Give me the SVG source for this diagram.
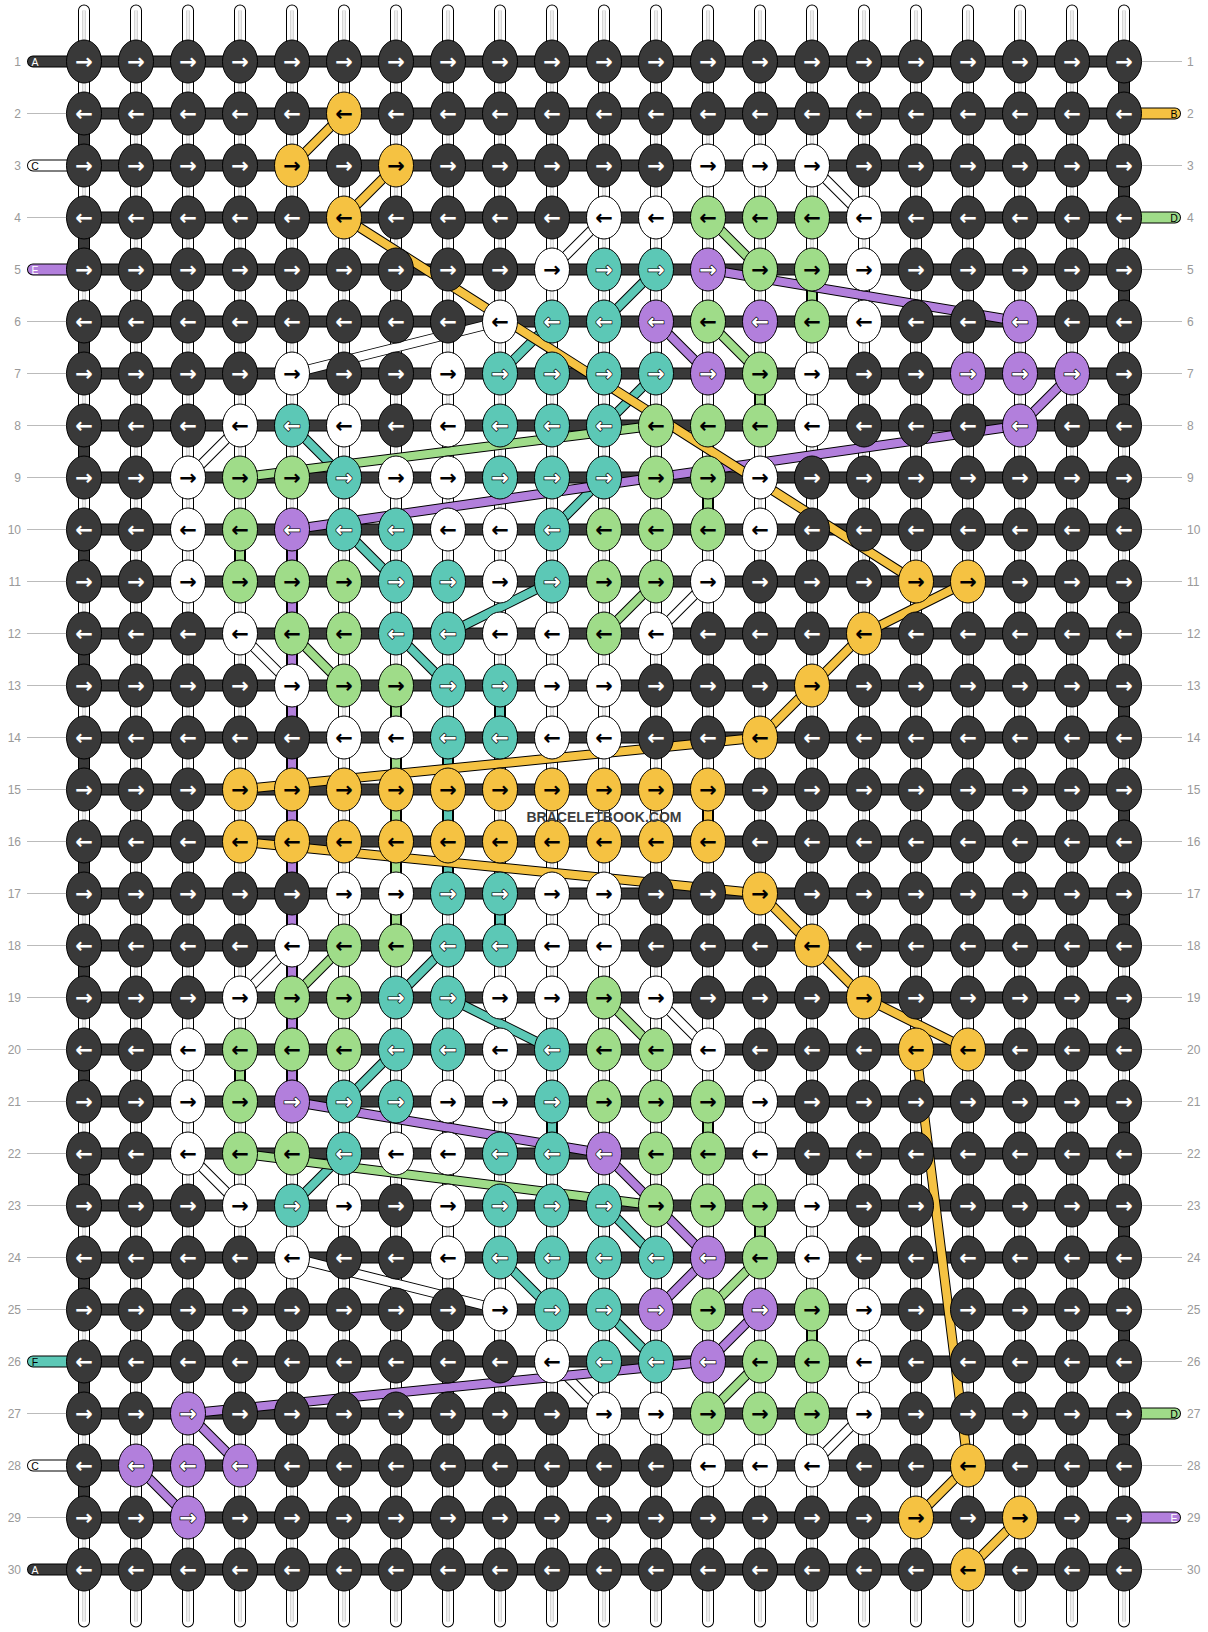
<svg xmlns="http://www.w3.org/2000/svg" xmlns:xlink="http://www.w3.org/1999/xlink" width="1208" height="1632" viewBox="0 0 1208 1632">
<style>
.wo{fill:none;stroke:#000;stroke-width:12;stroke-linecap:round}
.wi{fill:none;stroke:#fff;stroke-width:10;stroke-linecap:round}
.wc{fill:none;stroke:#c4c4c4;stroke-width:3.4}
.wc2{fill:none;stroke:#fff;stroke-width:1.4}
.fo{fill:none;stroke:#000;stroke-width:12}
.fi{fill:none;stroke:#393939;stroke-width:10}
.bo{fill:none;stroke:#000;stroke-width:10}
.bW{fill:none;stroke:#fff;stroke-width:8}
.bT{fill:none;stroke:#5cc8b6;stroke-width:8}
.bG{fill:none;stroke:#9fdc89;stroke-width:8}
.bP{fill:none;stroke:#b27fdc;stroke-width:8}
.bY{fill:none;stroke:#f5c242;stroke-width:8}
.to{fill:none;stroke:#000;stroke-width:12;stroke-linecap:round}
.ti{fill:none;stroke-width:10;stroke-linecap:round}
ellipse{rx:17.5px;ry:21.5px;stroke:#000;stroke-width:1}
.D{fill:#393939}.W{fill:#fff}.Y{fill:#f5c242}.G{fill:#9fdc89}.T{fill:#5cc8b6}.P{fill:#b27fdc}
ellipse+text{font-family:"DejaVu Sans",sans-serif;font-weight:bold;font-size:21px;text-anchor:middle;fill:#000;transform:translateY(1.3px)}
.D+text{fill:#fff}
.T+text,.P+text{fill:#fff;stroke:#000;stroke-width:1.3px;paint-order:stroke}
.num{font-family:"Liberation Sans",Arial,sans-serif;font-size:12px;fill:#999}
.lt{font-family:"Liberation Sans",Arial,sans-serif;font-size:10.5px;text-anchor:middle}
.gl{fill:none;stroke:#bbb;stroke-width:1}
</style>
<defs>
<path id="wp" d="M84 10.5V1621.5m52-1611v1611m52-1611v1611m52-1611v1611m52-1611v1611m52-1611v1611m52-1611v1611m52-1611v1611m52-1611v1611m52-1611v1611m52-1611v1611m52-1611v1611m52-1611v1611m52-1611v1611m52-1611v1611m52-1611v1611m52-1611v1611m52-1611v1611m52-1611v1611m52-1611v1611m52-1611v1611"/>
<path id="wf" d="M84 61.5h1040m-1040 52h1040m-1040 52h1040m-1040 52h1040m-1040 52h1040m-1040 52h1040m-1040 52h1040m-1040 52h1040m-1040 52h1040m-1040 52h1040m-1040 52h1040m-1040 52h1040m-1040 52h1040m-1040 52h1040m-1040 52h1040m-1040 52h1040m-1040 52h1040m-1040 52h1040m-1040 52h1040m-1040 52h1040m-1040 52h1040m-1040 52h1040m-1040 52h1040m-1040 52h1040m-1040 52h1040m-1040 52h1040m-1040 52h1040m-1040 52h1040m-1040 52h1040m-1040 52h1040M84 113.5v52m0 52v52m0 52v52m0 52v52m0 52v52m0 52v52m0 52v52m0 52v52m0 52v52m0 52v52m0 52v52m0 52v52m0 52v52m0 52v52M1124 61.5v52m0 52v52m0 52v52m0 52v52m0 52v52m0 52v52m0 52v52m0 52v52m0 52v52m0 52v52m0 52v52m0 52v52m0 52v52m0 52v52m0 52v52"/>
</defs>
<rect width="1208" height="1632" fill="#fff"/>
<g id="connectors">
<use xlink:href="#wp" class="wo"/><use xlink:href="#wp" class="wi"/><use xlink:href="#wp" class="wc"/><use xlink:href="#wp" class="wc2"/>
<use xlink:href="#wf" class="fo"/><use xlink:href="#wf" class="fi"/>
<g id="string-C">
<path class="bo" d="M812 165.5L864 217.5M604 217.5L552 269.5M500 321.5L292 373.5M240 425.5L188 477.5M708 581.5L656 633.5M240 633.5L292 685.5M292 945.5L240 997.5M656 997.5L708 1049.5M188 1153.5L240 1205.5M292 1257.5L500 1309.5M552 1361.5L604 1413.5M864 1413.5L812 1465.5"/>
<path class="bW" d="M812 165.5L864 217.5M604 217.5L552 269.5M500 321.5L292 373.5M240 425.5L188 477.5M708 581.5L656 633.5M240 633.5L292 685.5M292 945.5L240 997.5M656 997.5L708 1049.5M188 1153.5L240 1205.5M292 1257.5L500 1309.5M552 1361.5L604 1413.5M864 1413.5L812 1465.5"/>
</g>
<g id="string-F">
<path class="bo" d="M656 269.5L604 321.5M552 321.5L500 373.5M656 373.5L604 425.5M292 425.5L344 477.5M604 477.5L552 529.5M344 529.5L396 581.5M552 581.5L448 633.5M396 633.5L448 685.5M500 685.5V737.5M448 737.5V893.5M500 893.5V945.5M448 945.5L396 997.5M448 997.5L552 1049.5M396 1049.5L344 1101.5M552 1101.5V1153.5M344 1153.5L292 1205.5M604 1205.5L656 1257.5M500 1257.5L552 1309.5M604 1309.5L656 1361.5"/>
<path class="bT" d="M656 269.5L604 321.5M552 321.5L500 373.5M656 373.5L604 425.5M292 425.5L344 477.5M604 477.5L552 529.5M344 529.5L396 581.5M552 581.5L448 633.5M396 633.5L448 685.5M500 685.5V737.5M448 737.5V893.5M500 893.5V945.5M448 945.5L396 997.5M448 997.5L552 1049.5M396 1049.5L344 1101.5M552 1101.5V1153.5M344 1153.5L292 1205.5M604 1205.5L656 1257.5M500 1257.5L552 1309.5M604 1309.5L656 1361.5"/>
</g>
<g id="string-D">
<path class="bo" d="M708 217.5L760 269.5M812 269.5V321.5M708 321.5L760 373.5M760 373.5V425.5M656 425.5L240 477.5M708 477.5V529.5M240 529.5V581.5M656 581.5L604 633.5M292 633.5L344 685.5M396 685.5V945.5M344 945.5L292 997.5M604 997.5L656 1049.5M240 1049.5V1101.5M708 1101.5V1153.5M240 1153.5L656 1205.5M760 1205.5V1257.5M760 1257.5L708 1309.5M812 1309.5V1361.5M760 1361.5L708 1413.5"/>
<path class="bG" d="M708 217.5L760 269.5M812 269.5V321.5M708 321.5L760 373.5M760 373.5V425.5M656 425.5L240 477.5M708 477.5V529.5M240 529.5V581.5M656 581.5L604 633.5M292 633.5L344 685.5M396 685.5V945.5M344 945.5L292 997.5M604 997.5L656 1049.5M240 1049.5V1101.5M708 1101.5V1153.5M240 1153.5L656 1205.5M760 1205.5V1257.5M760 1257.5L708 1309.5M812 1309.5V1361.5M760 1361.5L708 1413.5"/>
</g>
<g id="string-E">
<path class="bo" d="M708 269.5L1020 321.5M656 321.5L708 373.5M1072 373.5L1020 425.5M1020 425.5L292 529.5M292 529.5V1101.5M292 1101.5L604 1153.5M604 1153.5L708 1257.5M708 1257.5L656 1309.5M760 1309.5L708 1361.5M708 1361.5L188 1413.5M188 1413.5L240 1465.5M136 1465.5L188 1517.5"/>
<path class="bP" d="M708 269.5L1020 321.5M656 321.5L708 373.5M1072 373.5L1020 425.5M1020 425.5L292 529.5M292 529.5V1101.5M292 1101.5L604 1153.5M604 1153.5L708 1257.5M708 1257.5L656 1309.5M760 1309.5L708 1361.5M708 1361.5L188 1413.5M188 1413.5L240 1465.5M136 1465.5L188 1517.5"/>
</g>
<g id="string-B">
<path class="bo" d="M344 113.5L292 165.5M396 165.5L344 217.5M344 217.5L916 581.5M968 581.5L864 633.5M864 633.5L812 685.5M812 685.5L760 737.5M760 737.5L240 789.5M708 789.5V841.5M240 841.5L760 893.5M760 893.5L812 945.5M812 945.5L864 997.5M864 997.5L968 1049.5M916 1049.5L968 1465.5M968 1465.5L916 1517.5M1020 1517.5L968 1569.5"/>
<path class="bY" d="M344 113.5L292 165.5M396 165.5L344 217.5M344 217.5L916 581.5M968 581.5L864 633.5M864 633.5L812 685.5M812 685.5L760 737.5M760 737.5L240 789.5M708 789.5V841.5M240 841.5L760 893.5M760 893.5L812 945.5M812 945.5L864 997.5M864 997.5L968 1049.5M916 1049.5L968 1465.5M968 1465.5L916 1517.5M1020 1517.5L968 1569.5"/>
</g>
</g>
<g id="labels">
<path class="gl" d="M27 113.5H66M27 217.5H66M27 321.5H66M27 373.5H66M27 425.5H66M27 477.5H66M27 529.5H66M27 581.5H66M27 633.5H66M27 685.5H66M27 737.5H66M27 789.5H66M27 841.5H66M27 893.5H66M27 945.5H66M27 997.5H66M27 1049.5H66M27 1101.5H66M27 1153.5H66M27 1205.5H66M27 1257.5H66M27 1309.5H66M27 1413.5H66M27 1517.5H66"/>
<path class="gl" d="M1142 61.5H1182M1142 165.5H1182M1142 269.5H1182M1142 321.5H1182M1142 373.5H1182M1142 425.5H1182M1142 477.5H1182M1142 529.5H1182M1142 581.5H1182M1142 633.5H1182M1142 685.5H1182M1142 737.5H1182M1142 789.5H1182M1142 841.5H1182M1142 893.5H1182M1142 945.5H1182M1142 997.5H1182M1142 1049.5H1182M1142 1101.5H1182M1142 1153.5H1182M1142 1205.5H1182M1142 1257.5H1182M1142 1309.5H1182M1142 1361.5H1182M1142 1465.5H1182M1142 1569.5H1182"/>
<path class="to" d="M33 61.5H84M33 1569.5H84M33 165.5H84M33 1465.5H84M33 269.5H84M33 1361.5H84M1124 113.5H1175M1124 217.5H1175M1124 1413.5H1175M1124 1517.5H1175"/>
<path class="ti" stroke="#393939" d="M33 61.5H84M33 1569.5H84"/>
<path class="ti" stroke="#fff" d="M33 165.5H84M33 1465.5H84"/>
<path class="ti" stroke="#b27fdc" d="M33 269.5H84M1124 1517.5H1175"/>
<path class="ti" stroke="#5cc8b6" d="M33 1361.5H84"/>
<path class="ti" stroke="#f5c242" d="M1124 113.5H1175"/>
<path class="ti" stroke="#9fdc89" d="M1124 217.5H1175M1124 1413.5H1175"/>
<text class="lt" x="35" y="65.5" fill="#fff">A</text>
<text class="lt" x="35" y="169.5" fill="#000">C</text>
<text class="lt" x="35" y="273.5" fill="#fff">E</text>
<text class="lt" x="35" y="1365.5" fill="#000">F</text>
<text class="lt" x="35" y="1469.5" fill="#000">C</text>
<text class="lt" x="35" y="1573.5" fill="#fff">A</text>
<text class="lt" x="1174" y="117.5" fill="#000">B</text>
<text class="lt" x="1174" y="221.5" fill="#000">D</text>
<text class="lt" x="1174" y="1417.5" fill="#000">D</text>
<text class="lt" x="1174" y="1521.5" fill="#fff">E</text>
<g class="num" text-anchor="end">
<text x="21" y="66">1</text><text x="21" y="118">2</text><text x="21" y="170">3</text><text x="21" y="222">4</text><text x="21" y="274">5</text><text x="21" y="326">6</text><text x="21" y="378">7</text><text x="21" y="430">8</text><text x="21" y="482">9</text><text x="21" y="534">10</text><text x="21" y="586">11</text><text x="21" y="638">12</text><text x="21" y="690">13</text><text x="21" y="742">14</text><text x="21" y="794">15</text><text x="21" y="846">16</text><text x="21" y="898">17</text><text x="21" y="950">18</text><text x="21" y="1002">19</text><text x="21" y="1054">20</text><text x="21" y="1106">21</text><text x="21" y="1158">22</text><text x="21" y="1210">23</text><text x="21" y="1262">24</text><text x="21" y="1314">25</text><text x="21" y="1366">26</text><text x="21" y="1418">27</text><text x="21" y="1470">28</text><text x="21" y="1522">29</text><text x="21" y="1574">30</text>
</g>
<g class="num">
<text x="1187" y="66">1</text><text x="1187" y="118">2</text><text x="1187" y="170">3</text><text x="1187" y="222">4</text><text x="1187" y="274">5</text><text x="1187" y="326">6</text><text x="1187" y="378">7</text><text x="1187" y="430">8</text><text x="1187" y="482">9</text><text x="1187" y="534">10</text><text x="1187" y="586">11</text><text x="1187" y="638">12</text><text x="1187" y="690">13</text><text x="1187" y="742">14</text><text x="1187" y="794">15</text><text x="1187" y="846">16</text><text x="1187" y="898">17</text><text x="1187" y="950">18</text><text x="1187" y="1002">19</text><text x="1187" y="1054">20</text><text x="1187" y="1106">21</text><text x="1187" y="1158">22</text><text x="1187" y="1210">23</text><text x="1187" y="1262">24</text><text x="1187" y="1314">25</text><text x="1187" y="1366">26</text><text x="1187" y="1418">27</text><text x="1187" y="1470">28</text><text x="1187" y="1522">29</text><text x="1187" y="1574">30</text>
</g>
</g>
<g id="knots">
<g id="row1" transform="translate(0 61.5)">
<g id="n1_0"><ellipse class="D" cx="84"/><text x="84" y="6">→</text></g><g id="n1_1"><ellipse class="D" cx="136"/><text x="136" y="6">→</text></g><g id="n1_2"><ellipse class="D" cx="188"/><text x="188" y="6">→</text></g><g id="n1_3"><ellipse class="D" cx="240"/><text x="240" y="6">→</text></g><g id="n1_4"><ellipse class="D" cx="292"/><text x="292" y="6">→</text></g><g id="n1_5"><ellipse class="D" cx="344"/><text x="344" y="6">→</text></g><g id="n1_6"><ellipse class="D" cx="396"/><text x="396" y="6">→</text></g><g id="n1_7"><ellipse class="D" cx="448"/><text x="448" y="6">→</text></g><g id="n1_8"><ellipse class="D" cx="500"/><text x="500" y="6">→</text></g><g id="n1_9"><ellipse class="D" cx="552"/><text x="552" y="6">→</text></g><g id="n1_10"><ellipse class="D" cx="604"/><text x="604" y="6">→</text></g><g id="n1_11"><ellipse class="D" cx="656"/><text x="656" y="6">→</text></g><g id="n1_12"><ellipse class="D" cx="708"/><text x="708" y="6">→</text></g><g id="n1_13"><ellipse class="D" cx="760"/><text x="760" y="6">→</text></g><g id="n1_14"><ellipse class="D" cx="812"/><text x="812" y="6">→</text></g><g id="n1_15"><ellipse class="D" cx="864"/><text x="864" y="6">→</text></g><g id="n1_16"><ellipse class="D" cx="916"/><text x="916" y="6">→</text></g><g id="n1_17"><ellipse class="D" cx="968"/><text x="968" y="6">→</text></g><g id="n1_18"><ellipse class="D" cx="1020"/><text x="1020" y="6">→</text></g><g id="n1_19"><ellipse class="D" cx="1072"/><text x="1072" y="6">→</text></g><g id="n1_20"><ellipse class="D" cx="1124"/><text x="1124" y="6">→</text></g>
</g>
<g id="row2" transform="translate(0 113.5)">
<g id="n2_0"><ellipse class="D" cx="84"/><text x="84" y="6">←</text></g><g id="n2_1"><ellipse class="D" cx="136"/><text x="136" y="6">←</text></g><g id="n2_2"><ellipse class="D" cx="188"/><text x="188" y="6">←</text></g><g id="n2_3"><ellipse class="D" cx="240"/><text x="240" y="6">←</text></g><g id="n2_4"><ellipse class="D" cx="292"/><text x="292" y="6">←</text></g><g id="n2_5"><ellipse class="Y" cx="344"/><text x="344" y="6">←</text></g><g id="n2_6"><ellipse class="D" cx="396"/><text x="396" y="6">←</text></g><g id="n2_7"><ellipse class="D" cx="448"/><text x="448" y="6">←</text></g><g id="n2_8"><ellipse class="D" cx="500"/><text x="500" y="6">←</text></g><g id="n2_9"><ellipse class="D" cx="552"/><text x="552" y="6">←</text></g><g id="n2_10"><ellipse class="D" cx="604"/><text x="604" y="6">←</text></g><g id="n2_11"><ellipse class="D" cx="656"/><text x="656" y="6">←</text></g><g id="n2_12"><ellipse class="D" cx="708"/><text x="708" y="6">←</text></g><g id="n2_13"><ellipse class="D" cx="760"/><text x="760" y="6">←</text></g><g id="n2_14"><ellipse class="D" cx="812"/><text x="812" y="6">←</text></g><g id="n2_15"><ellipse class="D" cx="864"/><text x="864" y="6">←</text></g><g id="n2_16"><ellipse class="D" cx="916"/><text x="916" y="6">←</text></g><g id="n2_17"><ellipse class="D" cx="968"/><text x="968" y="6">←</text></g><g id="n2_18"><ellipse class="D" cx="1020"/><text x="1020" y="6">←</text></g><g id="n2_19"><ellipse class="D" cx="1072"/><text x="1072" y="6">←</text></g><g id="n2_20"><ellipse class="D" cx="1124"/><text x="1124" y="6">←</text></g>
</g>
<g id="row3" transform="translate(0 165.5)">
<g id="n3_0"><ellipse class="D" cx="84"/><text x="84" y="6">→</text></g><g id="n3_1"><ellipse class="D" cx="136"/><text x="136" y="6">→</text></g><g id="n3_2"><ellipse class="D" cx="188"/><text x="188" y="6">→</text></g><g id="n3_3"><ellipse class="D" cx="240"/><text x="240" y="6">→</text></g><g id="n3_4"><ellipse class="Y" cx="292"/><text x="292" y="6">→</text></g><g id="n3_5"><ellipse class="D" cx="344"/><text x="344" y="6">→</text></g><g id="n3_6"><ellipse class="Y" cx="396"/><text x="396" y="6">→</text></g><g id="n3_7"><ellipse class="D" cx="448"/><text x="448" y="6">→</text></g><g id="n3_8"><ellipse class="D" cx="500"/><text x="500" y="6">→</text></g><g id="n3_9"><ellipse class="D" cx="552"/><text x="552" y="6">→</text></g><g id="n3_10"><ellipse class="D" cx="604"/><text x="604" y="6">→</text></g><g id="n3_11"><ellipse class="D" cx="656"/><text x="656" y="6">→</text></g><g id="n3_12"><ellipse class="W" cx="708"/><text x="708" y="6">→</text></g><g id="n3_13"><ellipse class="W" cx="760"/><text x="760" y="6">→</text></g><g id="n3_14"><ellipse class="W" cx="812"/><text x="812" y="6">→</text></g><g id="n3_15"><ellipse class="D" cx="864"/><text x="864" y="6">→</text></g><g id="n3_16"><ellipse class="D" cx="916"/><text x="916" y="6">→</text></g><g id="n3_17"><ellipse class="D" cx="968"/><text x="968" y="6">→</text></g><g id="n3_18"><ellipse class="D" cx="1020"/><text x="1020" y="6">→</text></g><g id="n3_19"><ellipse class="D" cx="1072"/><text x="1072" y="6">→</text></g><g id="n3_20"><ellipse class="D" cx="1124"/><text x="1124" y="6">→</text></g>
</g>
<g id="row4" transform="translate(0 217.5)">
<g id="n4_0"><ellipse class="D" cx="84"/><text x="84" y="6">←</text></g><g id="n4_1"><ellipse class="D" cx="136"/><text x="136" y="6">←</text></g><g id="n4_2"><ellipse class="D" cx="188"/><text x="188" y="6">←</text></g><g id="n4_3"><ellipse class="D" cx="240"/><text x="240" y="6">←</text></g><g id="n4_4"><ellipse class="D" cx="292"/><text x="292" y="6">←</text></g><g id="n4_5"><ellipse class="Y" cx="344"/><text x="344" y="6">←</text></g><g id="n4_6"><ellipse class="D" cx="396"/><text x="396" y="6">←</text></g><g id="n4_7"><ellipse class="D" cx="448"/><text x="448" y="6">←</text></g><g id="n4_8"><ellipse class="D" cx="500"/><text x="500" y="6">←</text></g><g id="n4_9"><ellipse class="D" cx="552"/><text x="552" y="6">←</text></g><g id="n4_10"><ellipse class="W" cx="604"/><text x="604" y="6">←</text></g><g id="n4_11"><ellipse class="W" cx="656"/><text x="656" y="6">←</text></g><g id="n4_12"><ellipse class="G" cx="708"/><text x="708" y="6">←</text></g><g id="n4_13"><ellipse class="G" cx="760"/><text x="760" y="6">←</text></g><g id="n4_14"><ellipse class="G" cx="812"/><text x="812" y="6">←</text></g><g id="n4_15"><ellipse class="W" cx="864"/><text x="864" y="6">←</text></g><g id="n4_16"><ellipse class="D" cx="916"/><text x="916" y="6">←</text></g><g id="n4_17"><ellipse class="D" cx="968"/><text x="968" y="6">←</text></g><g id="n4_18"><ellipse class="D" cx="1020"/><text x="1020" y="6">←</text></g><g id="n4_19"><ellipse class="D" cx="1072"/><text x="1072" y="6">←</text></g><g id="n4_20"><ellipse class="D" cx="1124"/><text x="1124" y="6">←</text></g>
</g>
<g id="row5" transform="translate(0 269.5)">
<g id="n5_0"><ellipse class="D" cx="84"/><text x="84" y="6">→</text></g><g id="n5_1"><ellipse class="D" cx="136"/><text x="136" y="6">→</text></g><g id="n5_2"><ellipse class="D" cx="188"/><text x="188" y="6">→</text></g><g id="n5_3"><ellipse class="D" cx="240"/><text x="240" y="6">→</text></g><g id="n5_4"><ellipse class="D" cx="292"/><text x="292" y="6">→</text></g><g id="n5_5"><ellipse class="D" cx="344"/><text x="344" y="6">→</text></g><g id="n5_6"><ellipse class="D" cx="396"/><text x="396" y="6">→</text></g><g id="n5_7"><ellipse class="D" cx="448"/><text x="448" y="6">→</text></g><g id="n5_8"><ellipse class="D" cx="500"/><text x="500" y="6">→</text></g><g id="n5_9"><ellipse class="W" cx="552"/><text x="552" y="6">→</text></g><g id="n5_10"><ellipse class="T" cx="604"/><text x="604" y="6">→</text></g><g id="n5_11"><ellipse class="T" cx="656"/><text x="656" y="6">→</text></g><g id="n5_12"><ellipse class="P" cx="708"/><text x="708" y="6">→</text></g><g id="n5_13"><ellipse class="G" cx="760"/><text x="760" y="6">→</text></g><g id="n5_14"><ellipse class="G" cx="812"/><text x="812" y="6">→</text></g><g id="n5_15"><ellipse class="W" cx="864"/><text x="864" y="6">→</text></g><g id="n5_16"><ellipse class="D" cx="916"/><text x="916" y="6">→</text></g><g id="n5_17"><ellipse class="D" cx="968"/><text x="968" y="6">→</text></g><g id="n5_18"><ellipse class="D" cx="1020"/><text x="1020" y="6">→</text></g><g id="n5_19"><ellipse class="D" cx="1072"/><text x="1072" y="6">→</text></g><g id="n5_20"><ellipse class="D" cx="1124"/><text x="1124" y="6">→</text></g>
</g>
<g id="row6" transform="translate(0 321.5)">
<g id="n6_0"><ellipse class="D" cx="84"/><text x="84" y="6">←</text></g><g id="n6_1"><ellipse class="D" cx="136"/><text x="136" y="6">←</text></g><g id="n6_2"><ellipse class="D" cx="188"/><text x="188" y="6">←</text></g><g id="n6_3"><ellipse class="D" cx="240"/><text x="240" y="6">←</text></g><g id="n6_4"><ellipse class="D" cx="292"/><text x="292" y="6">←</text></g><g id="n6_5"><ellipse class="D" cx="344"/><text x="344" y="6">←</text></g><g id="n6_6"><ellipse class="D" cx="396"/><text x="396" y="6">←</text></g><g id="n6_7"><ellipse class="D" cx="448"/><text x="448" y="6">←</text></g><g id="n6_8"><ellipse class="W" cx="500"/><text x="500" y="6">←</text></g><g id="n6_9"><ellipse class="T" cx="552"/><text x="552" y="6">←</text></g><g id="n6_10"><ellipse class="T" cx="604"/><text x="604" y="6">←</text></g><g id="n6_11"><ellipse class="P" cx="656"/><text x="656" y="6">←</text></g><g id="n6_12"><ellipse class="G" cx="708"/><text x="708" y="6">←</text></g><g id="n6_13"><ellipse class="P" cx="760"/><text x="760" y="6">←</text></g><g id="n6_14"><ellipse class="G" cx="812"/><text x="812" y="6">←</text></g><g id="n6_15"><ellipse class="W" cx="864"/><text x="864" y="6">←</text></g><g id="n6_16"><ellipse class="D" cx="916"/><text x="916" y="6">←</text></g><g id="n6_17"><ellipse class="D" cx="968"/><text x="968" y="6">←</text></g><g id="n6_18"><ellipse class="P" cx="1020"/><text x="1020" y="6">←</text></g><g id="n6_19"><ellipse class="D" cx="1072"/><text x="1072" y="6">←</text></g><g id="n6_20"><ellipse class="D" cx="1124"/><text x="1124" y="6">←</text></g>
</g>
<g id="row7" transform="translate(0 373.5)">
<g id="n7_0"><ellipse class="D" cx="84"/><text x="84" y="6">→</text></g><g id="n7_1"><ellipse class="D" cx="136"/><text x="136" y="6">→</text></g><g id="n7_2"><ellipse class="D" cx="188"/><text x="188" y="6">→</text></g><g id="n7_3"><ellipse class="D" cx="240"/><text x="240" y="6">→</text></g><g id="n7_4"><ellipse class="W" cx="292"/><text x="292" y="6">→</text></g><g id="n7_5"><ellipse class="D" cx="344"/><text x="344" y="6">→</text></g><g id="n7_6"><ellipse class="D" cx="396"/><text x="396" y="6">→</text></g><g id="n7_7"><ellipse class="W" cx="448"/><text x="448" y="6">→</text></g><g id="n7_8"><ellipse class="T" cx="500"/><text x="500" y="6">→</text></g><g id="n7_9"><ellipse class="T" cx="552"/><text x="552" y="6">→</text></g><g id="n7_10"><ellipse class="T" cx="604"/><text x="604" y="6">→</text></g><g id="n7_11"><ellipse class="T" cx="656"/><text x="656" y="6">→</text></g><g id="n7_12"><ellipse class="P" cx="708"/><text x="708" y="6">→</text></g><g id="n7_13"><ellipse class="G" cx="760"/><text x="760" y="6">→</text></g><g id="n7_14"><ellipse class="W" cx="812"/><text x="812" y="6">→</text></g><g id="n7_15"><ellipse class="D" cx="864"/><text x="864" y="6">→</text></g><g id="n7_16"><ellipse class="D" cx="916"/><text x="916" y="6">→</text></g><g id="n7_17"><ellipse class="P" cx="968"/><text x="968" y="6">→</text></g><g id="n7_18"><ellipse class="P" cx="1020"/><text x="1020" y="6">→</text></g><g id="n7_19"><ellipse class="P" cx="1072"/><text x="1072" y="6">→</text></g><g id="n7_20"><ellipse class="D" cx="1124"/><text x="1124" y="6">→</text></g>
</g>
<g id="row8" transform="translate(0 425.5)">
<g id="n8_0"><ellipse class="D" cx="84"/><text x="84" y="6">←</text></g><g id="n8_1"><ellipse class="D" cx="136"/><text x="136" y="6">←</text></g><g id="n8_2"><ellipse class="D" cx="188"/><text x="188" y="6">←</text></g><g id="n8_3"><ellipse class="W" cx="240"/><text x="240" y="6">←</text></g><g id="n8_4"><ellipse class="T" cx="292"/><text x="292" y="6">←</text></g><g id="n8_5"><ellipse class="W" cx="344"/><text x="344" y="6">←</text></g><g id="n8_6"><ellipse class="D" cx="396"/><text x="396" y="6">←</text></g><g id="n8_7"><ellipse class="W" cx="448"/><text x="448" y="6">←</text></g><g id="n8_8"><ellipse class="T" cx="500"/><text x="500" y="6">←</text></g><g id="n8_9"><ellipse class="T" cx="552"/><text x="552" y="6">←</text></g><g id="n8_10"><ellipse class="T" cx="604"/><text x="604" y="6">←</text></g><g id="n8_11"><ellipse class="G" cx="656"/><text x="656" y="6">←</text></g><g id="n8_12"><ellipse class="G" cx="708"/><text x="708" y="6">←</text></g><g id="n8_13"><ellipse class="G" cx="760"/><text x="760" y="6">←</text></g><g id="n8_14"><ellipse class="W" cx="812"/><text x="812" y="6">←</text></g><g id="n8_15"><ellipse class="D" cx="864"/><text x="864" y="6">←</text></g><g id="n8_16"><ellipse class="D" cx="916"/><text x="916" y="6">←</text></g><g id="n8_17"><ellipse class="D" cx="968"/><text x="968" y="6">←</text></g><g id="n8_18"><ellipse class="P" cx="1020"/><text x="1020" y="6">←</text></g><g id="n8_19"><ellipse class="D" cx="1072"/><text x="1072" y="6">←</text></g><g id="n8_20"><ellipse class="D" cx="1124"/><text x="1124" y="6">←</text></g>
</g>
<g id="row9" transform="translate(0 477.5)">
<g id="n9_0"><ellipse class="D" cx="84"/><text x="84" y="6">→</text></g><g id="n9_1"><ellipse class="D" cx="136"/><text x="136" y="6">→</text></g><g id="n9_2"><ellipse class="W" cx="188"/><text x="188" y="6">→</text></g><g id="n9_3"><ellipse class="G" cx="240"/><text x="240" y="6">→</text></g><g id="n9_4"><ellipse class="G" cx="292"/><text x="292" y="6">→</text></g><g id="n9_5"><ellipse class="T" cx="344"/><text x="344" y="6">→</text></g><g id="n9_6"><ellipse class="W" cx="396"/><text x="396" y="6">→</text></g><g id="n9_7"><ellipse class="W" cx="448"/><text x="448" y="6">→</text></g><g id="n9_8"><ellipse class="T" cx="500"/><text x="500" y="6">→</text></g><g id="n9_9"><ellipse class="T" cx="552"/><text x="552" y="6">→</text></g><g id="n9_10"><ellipse class="T" cx="604"/><text x="604" y="6">→</text></g><g id="n9_11"><ellipse class="G" cx="656"/><text x="656" y="6">→</text></g><g id="n9_12"><ellipse class="G" cx="708"/><text x="708" y="6">→</text></g><g id="n9_13"><ellipse class="W" cx="760"/><text x="760" y="6">→</text></g><g id="n9_14"><ellipse class="D" cx="812"/><text x="812" y="6">→</text></g><g id="n9_15"><ellipse class="D" cx="864"/><text x="864" y="6">→</text></g><g id="n9_16"><ellipse class="D" cx="916"/><text x="916" y="6">→</text></g><g id="n9_17"><ellipse class="D" cx="968"/><text x="968" y="6">→</text></g><g id="n9_18"><ellipse class="D" cx="1020"/><text x="1020" y="6">→</text></g><g id="n9_19"><ellipse class="D" cx="1072"/><text x="1072" y="6">→</text></g><g id="n9_20"><ellipse class="D" cx="1124"/><text x="1124" y="6">→</text></g>
</g>
<g id="row10" transform="translate(0 529.5)">
<g id="n10_0"><ellipse class="D" cx="84"/><text x="84" y="6">←</text></g><g id="n10_1"><ellipse class="D" cx="136"/><text x="136" y="6">←</text></g><g id="n10_2"><ellipse class="W" cx="188"/><text x="188" y="6">←</text></g><g id="n10_3"><ellipse class="G" cx="240"/><text x="240" y="6">←</text></g><g id="n10_4"><ellipse class="P" cx="292"/><text x="292" y="6">←</text></g><g id="n10_5"><ellipse class="T" cx="344"/><text x="344" y="6">←</text></g><g id="n10_6"><ellipse class="T" cx="396"/><text x="396" y="6">←</text></g><g id="n10_7"><ellipse class="W" cx="448"/><text x="448" y="6">←</text></g><g id="n10_8"><ellipse class="W" cx="500"/><text x="500" y="6">←</text></g><g id="n10_9"><ellipse class="T" cx="552"/><text x="552" y="6">←</text></g><g id="n10_10"><ellipse class="G" cx="604"/><text x="604" y="6">←</text></g><g id="n10_11"><ellipse class="G" cx="656"/><text x="656" y="6">←</text></g><g id="n10_12"><ellipse class="G" cx="708"/><text x="708" y="6">←</text></g><g id="n10_13"><ellipse class="W" cx="760"/><text x="760" y="6">←</text></g><g id="n10_14"><ellipse class="D" cx="812"/><text x="812" y="6">←</text></g><g id="n10_15"><ellipse class="D" cx="864"/><text x="864" y="6">←</text></g><g id="n10_16"><ellipse class="D" cx="916"/><text x="916" y="6">←</text></g><g id="n10_17"><ellipse class="D" cx="968"/><text x="968" y="6">←</text></g><g id="n10_18"><ellipse class="D" cx="1020"/><text x="1020" y="6">←</text></g><g id="n10_19"><ellipse class="D" cx="1072"/><text x="1072" y="6">←</text></g><g id="n10_20"><ellipse class="D" cx="1124"/><text x="1124" y="6">←</text></g>
</g>
<g id="row11" transform="translate(0 581.5)">
<g id="n11_0"><ellipse class="D" cx="84"/><text x="84" y="6">→</text></g><g id="n11_1"><ellipse class="D" cx="136"/><text x="136" y="6">→</text></g><g id="n11_2"><ellipse class="W" cx="188"/><text x="188" y="6">→</text></g><g id="n11_3"><ellipse class="G" cx="240"/><text x="240" y="6">→</text></g><g id="n11_4"><ellipse class="G" cx="292"/><text x="292" y="6">→</text></g><g id="n11_5"><ellipse class="G" cx="344"/><text x="344" y="6">→</text></g><g id="n11_6"><ellipse class="T" cx="396"/><text x="396" y="6">→</text></g><g id="n11_7"><ellipse class="T" cx="448"/><text x="448" y="6">→</text></g><g id="n11_8"><ellipse class="W" cx="500"/><text x="500" y="6">→</text></g><g id="n11_9"><ellipse class="T" cx="552"/><text x="552" y="6">→</text></g><g id="n11_10"><ellipse class="G" cx="604"/><text x="604" y="6">→</text></g><g id="n11_11"><ellipse class="G" cx="656"/><text x="656" y="6">→</text></g><g id="n11_12"><ellipse class="W" cx="708"/><text x="708" y="6">→</text></g><g id="n11_13"><ellipse class="D" cx="760"/><text x="760" y="6">→</text></g><g id="n11_14"><ellipse class="D" cx="812"/><text x="812" y="6">→</text></g><g id="n11_15"><ellipse class="D" cx="864"/><text x="864" y="6">→</text></g><g id="n11_16"><ellipse class="Y" cx="916"/><text x="916" y="6">→</text></g><g id="n11_17"><ellipse class="Y" cx="968"/><text x="968" y="6">→</text></g><g id="n11_18"><ellipse class="D" cx="1020"/><text x="1020" y="6">→</text></g><g id="n11_19"><ellipse class="D" cx="1072"/><text x="1072" y="6">→</text></g><g id="n11_20"><ellipse class="D" cx="1124"/><text x="1124" y="6">→</text></g>
</g>
<g id="row12" transform="translate(0 633.5)">
<g id="n12_0"><ellipse class="D" cx="84"/><text x="84" y="6">←</text></g><g id="n12_1"><ellipse class="D" cx="136"/><text x="136" y="6">←</text></g><g id="n12_2"><ellipse class="D" cx="188"/><text x="188" y="6">←</text></g><g id="n12_3"><ellipse class="W" cx="240"/><text x="240" y="6">←</text></g><g id="n12_4"><ellipse class="G" cx="292"/><text x="292" y="6">←</text></g><g id="n12_5"><ellipse class="G" cx="344"/><text x="344" y="6">←</text></g><g id="n12_6"><ellipse class="T" cx="396"/><text x="396" y="6">←</text></g><g id="n12_7"><ellipse class="T" cx="448"/><text x="448" y="6">←</text></g><g id="n12_8"><ellipse class="W" cx="500"/><text x="500" y="6">←</text></g><g id="n12_9"><ellipse class="W" cx="552"/><text x="552" y="6">←</text></g><g id="n12_10"><ellipse class="G" cx="604"/><text x="604" y="6">←</text></g><g id="n12_11"><ellipse class="W" cx="656"/><text x="656" y="6">←</text></g><g id="n12_12"><ellipse class="D" cx="708"/><text x="708" y="6">←</text></g><g id="n12_13"><ellipse class="D" cx="760"/><text x="760" y="6">←</text></g><g id="n12_14"><ellipse class="D" cx="812"/><text x="812" y="6">←</text></g><g id="n12_15"><ellipse class="Y" cx="864"/><text x="864" y="6">←</text></g><g id="n12_16"><ellipse class="D" cx="916"/><text x="916" y="6">←</text></g><g id="n12_17"><ellipse class="D" cx="968"/><text x="968" y="6">←</text></g><g id="n12_18"><ellipse class="D" cx="1020"/><text x="1020" y="6">←</text></g><g id="n12_19"><ellipse class="D" cx="1072"/><text x="1072" y="6">←</text></g><g id="n12_20"><ellipse class="D" cx="1124"/><text x="1124" y="6">←</text></g>
</g>
<g id="row13" transform="translate(0 685.5)">
<g id="n13_0"><ellipse class="D" cx="84"/><text x="84" y="6">→</text></g><g id="n13_1"><ellipse class="D" cx="136"/><text x="136" y="6">→</text></g><g id="n13_2"><ellipse class="D" cx="188"/><text x="188" y="6">→</text></g><g id="n13_3"><ellipse class="D" cx="240"/><text x="240" y="6">→</text></g><g id="n13_4"><ellipse class="W" cx="292"/><text x="292" y="6">→</text></g><g id="n13_5"><ellipse class="G" cx="344"/><text x="344" y="6">→</text></g><g id="n13_6"><ellipse class="G" cx="396"/><text x="396" y="6">→</text></g><g id="n13_7"><ellipse class="T" cx="448"/><text x="448" y="6">→</text></g><g id="n13_8"><ellipse class="T" cx="500"/><text x="500" y="6">→</text></g><g id="n13_9"><ellipse class="W" cx="552"/><text x="552" y="6">→</text></g><g id="n13_10"><ellipse class="W" cx="604"/><text x="604" y="6">→</text></g><g id="n13_11"><ellipse class="D" cx="656"/><text x="656" y="6">→</text></g><g id="n13_12"><ellipse class="D" cx="708"/><text x="708" y="6">→</text></g><g id="n13_13"><ellipse class="D" cx="760"/><text x="760" y="6">→</text></g><g id="n13_14"><ellipse class="Y" cx="812"/><text x="812" y="6">→</text></g><g id="n13_15"><ellipse class="D" cx="864"/><text x="864" y="6">→</text></g><g id="n13_16"><ellipse class="D" cx="916"/><text x="916" y="6">→</text></g><g id="n13_17"><ellipse class="D" cx="968"/><text x="968" y="6">→</text></g><g id="n13_18"><ellipse class="D" cx="1020"/><text x="1020" y="6">→</text></g><g id="n13_19"><ellipse class="D" cx="1072"/><text x="1072" y="6">→</text></g><g id="n13_20"><ellipse class="D" cx="1124"/><text x="1124" y="6">→</text></g>
</g>
<g id="row14" transform="translate(0 737.5)">
<g id="n14_0"><ellipse class="D" cx="84"/><text x="84" y="6">←</text></g><g id="n14_1"><ellipse class="D" cx="136"/><text x="136" y="6">←</text></g><g id="n14_2"><ellipse class="D" cx="188"/><text x="188" y="6">←</text></g><g id="n14_3"><ellipse class="D" cx="240"/><text x="240" y="6">←</text></g><g id="n14_4"><ellipse class="D" cx="292"/><text x="292" y="6">←</text></g><g id="n14_5"><ellipse class="W" cx="344"/><text x="344" y="6">←</text></g><g id="n14_6"><ellipse class="W" cx="396"/><text x="396" y="6">←</text></g><g id="n14_7"><ellipse class="T" cx="448"/><text x="448" y="6">←</text></g><g id="n14_8"><ellipse class="T" cx="500"/><text x="500" y="6">←</text></g><g id="n14_9"><ellipse class="W" cx="552"/><text x="552" y="6">←</text></g><g id="n14_10"><ellipse class="W" cx="604"/><text x="604" y="6">←</text></g><g id="n14_11"><ellipse class="D" cx="656"/><text x="656" y="6">←</text></g><g id="n14_12"><ellipse class="D" cx="708"/><text x="708" y="6">←</text></g><g id="n14_13"><ellipse class="Y" cx="760"/><text x="760" y="6">←</text></g><g id="n14_14"><ellipse class="D" cx="812"/><text x="812" y="6">←</text></g><g id="n14_15"><ellipse class="D" cx="864"/><text x="864" y="6">←</text></g><g id="n14_16"><ellipse class="D" cx="916"/><text x="916" y="6">←</text></g><g id="n14_17"><ellipse class="D" cx="968"/><text x="968" y="6">←</text></g><g id="n14_18"><ellipse class="D" cx="1020"/><text x="1020" y="6">←</text></g><g id="n14_19"><ellipse class="D" cx="1072"/><text x="1072" y="6">←</text></g><g id="n14_20"><ellipse class="D" cx="1124"/><text x="1124" y="6">←</text></g>
</g>
<g id="row15" transform="translate(0 789.5)">
<g id="n15_0"><ellipse class="D" cx="84"/><text x="84" y="6">→</text></g><g id="n15_1"><ellipse class="D" cx="136"/><text x="136" y="6">→</text></g><g id="n15_2"><ellipse class="D" cx="188"/><text x="188" y="6">→</text></g><g id="n15_3"><ellipse class="Y" cx="240"/><text x="240" y="6">→</text></g><g id="n15_4"><ellipse class="Y" cx="292"/><text x="292" y="6">→</text></g><g id="n15_5"><ellipse class="Y" cx="344"/><text x="344" y="6">→</text></g><g id="n15_6"><ellipse class="Y" cx="396"/><text x="396" y="6">→</text></g><g id="n15_7"><ellipse class="Y" cx="448"/><text x="448" y="6">→</text></g><g id="n15_8"><ellipse class="Y" cx="500"/><text x="500" y="6">→</text></g><g id="n15_9"><ellipse class="Y" cx="552"/><text x="552" y="6">→</text></g><g id="n15_10"><ellipse class="Y" cx="604"/><text x="604" y="6">→</text></g><g id="n15_11"><ellipse class="Y" cx="656"/><text x="656" y="6">→</text></g><g id="n15_12"><ellipse class="Y" cx="708"/><text x="708" y="6">→</text></g><g id="n15_13"><ellipse class="D" cx="760"/><text x="760" y="6">→</text></g><g id="n15_14"><ellipse class="D" cx="812"/><text x="812" y="6">→</text></g><g id="n15_15"><ellipse class="D" cx="864"/><text x="864" y="6">→</text></g><g id="n15_16"><ellipse class="D" cx="916"/><text x="916" y="6">→</text></g><g id="n15_17"><ellipse class="D" cx="968"/><text x="968" y="6">→</text></g><g id="n15_18"><ellipse class="D" cx="1020"/><text x="1020" y="6">→</text></g><g id="n15_19"><ellipse class="D" cx="1072"/><text x="1072" y="6">→</text></g><g id="n15_20"><ellipse class="D" cx="1124"/><text x="1124" y="6">→</text></g>
</g>
<g id="row16" transform="translate(0 841.5)">
<g id="n16_0"><ellipse class="D" cx="84"/><text x="84" y="6">←</text></g><g id="n16_1"><ellipse class="D" cx="136"/><text x="136" y="6">←</text></g><g id="n16_2"><ellipse class="D" cx="188"/><text x="188" y="6">←</text></g><g id="n16_3"><ellipse class="Y" cx="240"/><text x="240" y="6">←</text></g><g id="n16_4"><ellipse class="Y" cx="292"/><text x="292" y="6">←</text></g><g id="n16_5"><ellipse class="Y" cx="344"/><text x="344" y="6">←</text></g><g id="n16_6"><ellipse class="Y" cx="396"/><text x="396" y="6">←</text></g><g id="n16_7"><ellipse class="Y" cx="448"/><text x="448" y="6">←</text></g><g id="n16_8"><ellipse class="Y" cx="500"/><text x="500" y="6">←</text></g><g id="n16_9"><ellipse class="Y" cx="552"/><text x="552" y="6">←</text></g><g id="n16_10"><ellipse class="Y" cx="604"/><text x="604" y="6">←</text></g><g id="n16_11"><ellipse class="Y" cx="656"/><text x="656" y="6">←</text></g><g id="n16_12"><ellipse class="Y" cx="708"/><text x="708" y="6">←</text></g><g id="n16_13"><ellipse class="D" cx="760"/><text x="760" y="6">←</text></g><g id="n16_14"><ellipse class="D" cx="812"/><text x="812" y="6">←</text></g><g id="n16_15"><ellipse class="D" cx="864"/><text x="864" y="6">←</text></g><g id="n16_16"><ellipse class="D" cx="916"/><text x="916" y="6">←</text></g><g id="n16_17"><ellipse class="D" cx="968"/><text x="968" y="6">←</text></g><g id="n16_18"><ellipse class="D" cx="1020"/><text x="1020" y="6">←</text></g><g id="n16_19"><ellipse class="D" cx="1072"/><text x="1072" y="6">←</text></g><g id="n16_20"><ellipse class="D" cx="1124"/><text x="1124" y="6">←</text></g>
</g>
<g id="row17" transform="translate(0 893.5)">
<g id="n17_0"><ellipse class="D" cx="84"/><text x="84" y="6">→</text></g><g id="n17_1"><ellipse class="D" cx="136"/><text x="136" y="6">→</text></g><g id="n17_2"><ellipse class="D" cx="188"/><text x="188" y="6">→</text></g><g id="n17_3"><ellipse class="D" cx="240"/><text x="240" y="6">→</text></g><g id="n17_4"><ellipse class="D" cx="292"/><text x="292" y="6">→</text></g><g id="n17_5"><ellipse class="W" cx="344"/><text x="344" y="6">→</text></g><g id="n17_6"><ellipse class="W" cx="396"/><text x="396" y="6">→</text></g><g id="n17_7"><ellipse class="T" cx="448"/><text x="448" y="6">→</text></g><g id="n17_8"><ellipse class="T" cx="500"/><text x="500" y="6">→</text></g><g id="n17_9"><ellipse class="W" cx="552"/><text x="552" y="6">→</text></g><g id="n17_10"><ellipse class="W" cx="604"/><text x="604" y="6">→</text></g><g id="n17_11"><ellipse class="D" cx="656"/><text x="656" y="6">→</text></g><g id="n17_12"><ellipse class="D" cx="708"/><text x="708" y="6">→</text></g><g id="n17_13"><ellipse class="Y" cx="760"/><text x="760" y="6">→</text></g><g id="n17_14"><ellipse class="D" cx="812"/><text x="812" y="6">→</text></g><g id="n17_15"><ellipse class="D" cx="864"/><text x="864" y="6">→</text></g><g id="n17_16"><ellipse class="D" cx="916"/><text x="916" y="6">→</text></g><g id="n17_17"><ellipse class="D" cx="968"/><text x="968" y="6">→</text></g><g id="n17_18"><ellipse class="D" cx="1020"/><text x="1020" y="6">→</text></g><g id="n17_19"><ellipse class="D" cx="1072"/><text x="1072" y="6">→</text></g><g id="n17_20"><ellipse class="D" cx="1124"/><text x="1124" y="6">→</text></g>
</g>
<g id="row18" transform="translate(0 945.5)">
<g id="n18_0"><ellipse class="D" cx="84"/><text x="84" y="6">←</text></g><g id="n18_1"><ellipse class="D" cx="136"/><text x="136" y="6">←</text></g><g id="n18_2"><ellipse class="D" cx="188"/><text x="188" y="6">←</text></g><g id="n18_3"><ellipse class="D" cx="240"/><text x="240" y="6">←</text></g><g id="n18_4"><ellipse class="W" cx="292"/><text x="292" y="6">←</text></g><g id="n18_5"><ellipse class="G" cx="344"/><text x="344" y="6">←</text></g><g id="n18_6"><ellipse class="G" cx="396"/><text x="396" y="6">←</text></g><g id="n18_7"><ellipse class="T" cx="448"/><text x="448" y="6">←</text></g><g id="n18_8"><ellipse class="T" cx="500"/><text x="500" y="6">←</text></g><g id="n18_9"><ellipse class="W" cx="552"/><text x="552" y="6">←</text></g><g id="n18_10"><ellipse class="W" cx="604"/><text x="604" y="6">←</text></g><g id="n18_11"><ellipse class="D" cx="656"/><text x="656" y="6">←</text></g><g id="n18_12"><ellipse class="D" cx="708"/><text x="708" y="6">←</text></g><g id="n18_13"><ellipse class="D" cx="760"/><text x="760" y="6">←</text></g><g id="n18_14"><ellipse class="Y" cx="812"/><text x="812" y="6">←</text></g><g id="n18_15"><ellipse class="D" cx="864"/><text x="864" y="6">←</text></g><g id="n18_16"><ellipse class="D" cx="916"/><text x="916" y="6">←</text></g><g id="n18_17"><ellipse class="D" cx="968"/><text x="968" y="6">←</text></g><g id="n18_18"><ellipse class="D" cx="1020"/><text x="1020" y="6">←</text></g><g id="n18_19"><ellipse class="D" cx="1072"/><text x="1072" y="6">←</text></g><g id="n18_20"><ellipse class="D" cx="1124"/><text x="1124" y="6">←</text></g>
</g>
<g id="row19" transform="translate(0 997.5)">
<g id="n19_0"><ellipse class="D" cx="84"/><text x="84" y="6">→</text></g><g id="n19_1"><ellipse class="D" cx="136"/><text x="136" y="6">→</text></g><g id="n19_2"><ellipse class="D" cx="188"/><text x="188" y="6">→</text></g><g id="n19_3"><ellipse class="W" cx="240"/><text x="240" y="6">→</text></g><g id="n19_4"><ellipse class="G" cx="292"/><text x="292" y="6">→</text></g><g id="n19_5"><ellipse class="G" cx="344"/><text x="344" y="6">→</text></g><g id="n19_6"><ellipse class="T" cx="396"/><text x="396" y="6">→</text></g><g id="n19_7"><ellipse class="T" cx="448"/><text x="448" y="6">→</text></g><g id="n19_8"><ellipse class="W" cx="500"/><text x="500" y="6">→</text></g><g id="n19_9"><ellipse class="W" cx="552"/><text x="552" y="6">→</text></g><g id="n19_10"><ellipse class="G" cx="604"/><text x="604" y="6">→</text></g><g id="n19_11"><ellipse class="W" cx="656"/><text x="656" y="6">→</text></g><g id="n19_12"><ellipse class="D" cx="708"/><text x="708" y="6">→</text></g><g id="n19_13"><ellipse class="D" cx="760"/><text x="760" y="6">→</text></g><g id="n19_14"><ellipse class="D" cx="812"/><text x="812" y="6">→</text></g><g id="n19_15"><ellipse class="Y" cx="864"/><text x="864" y="6">→</text></g><g id="n19_16"><ellipse class="D" cx="916"/><text x="916" y="6">→</text></g><g id="n19_17"><ellipse class="D" cx="968"/><text x="968" y="6">→</text></g><g id="n19_18"><ellipse class="D" cx="1020"/><text x="1020" y="6">→</text></g><g id="n19_19"><ellipse class="D" cx="1072"/><text x="1072" y="6">→</text></g><g id="n19_20"><ellipse class="D" cx="1124"/><text x="1124" y="6">→</text></g>
</g>
<g id="row20" transform="translate(0 1049.5)">
<g id="n20_0"><ellipse class="D" cx="84"/><text x="84" y="6">←</text></g><g id="n20_1"><ellipse class="D" cx="136"/><text x="136" y="6">←</text></g><g id="n20_2"><ellipse class="W" cx="188"/><text x="188" y="6">←</text></g><g id="n20_3"><ellipse class="G" cx="240"/><text x="240" y="6">←</text></g><g id="n20_4"><ellipse class="G" cx="292"/><text x="292" y="6">←</text></g><g id="n20_5"><ellipse class="G" cx="344"/><text x="344" y="6">←</text></g><g id="n20_6"><ellipse class="T" cx="396"/><text x="396" y="6">←</text></g><g id="n20_7"><ellipse class="T" cx="448"/><text x="448" y="6">←</text></g><g id="n20_8"><ellipse class="W" cx="500"/><text x="500" y="6">←</text></g><g id="n20_9"><ellipse class="T" cx="552"/><text x="552" y="6">←</text></g><g id="n20_10"><ellipse class="G" cx="604"/><text x="604" y="6">←</text></g><g id="n20_11"><ellipse class="G" cx="656"/><text x="656" y="6">←</text></g><g id="n20_12"><ellipse class="W" cx="708"/><text x="708" y="6">←</text></g><g id="n20_13"><ellipse class="D" cx="760"/><text x="760" y="6">←</text></g><g id="n20_14"><ellipse class="D" cx="812"/><text x="812" y="6">←</text></g><g id="n20_15"><ellipse class="D" cx="864"/><text x="864" y="6">←</text></g><g id="n20_16"><ellipse class="Y" cx="916"/><text x="916" y="6">←</text></g><g id="n20_17"><ellipse class="Y" cx="968"/><text x="968" y="6">←</text></g><g id="n20_18"><ellipse class="D" cx="1020"/><text x="1020" y="6">←</text></g><g id="n20_19"><ellipse class="D" cx="1072"/><text x="1072" y="6">←</text></g><g id="n20_20"><ellipse class="D" cx="1124"/><text x="1124" y="6">←</text></g>
</g>
<g id="row21" transform="translate(0 1101.5)">
<g id="n21_0"><ellipse class="D" cx="84"/><text x="84" y="6">→</text></g><g id="n21_1"><ellipse class="D" cx="136"/><text x="136" y="6">→</text></g><g id="n21_2"><ellipse class="W" cx="188"/><text x="188" y="6">→</text></g><g id="n21_3"><ellipse class="G" cx="240"/><text x="240" y="6">→</text></g><g id="n21_4"><ellipse class="P" cx="292"/><text x="292" y="6">→</text></g><g id="n21_5"><ellipse class="T" cx="344"/><text x="344" y="6">→</text></g><g id="n21_6"><ellipse class="T" cx="396"/><text x="396" y="6">→</text></g><g id="n21_7"><ellipse class="W" cx="448"/><text x="448" y="6">→</text></g><g id="n21_8"><ellipse class="W" cx="500"/><text x="500" y="6">→</text></g><g id="n21_9"><ellipse class="T" cx="552"/><text x="552" y="6">→</text></g><g id="n21_10"><ellipse class="G" cx="604"/><text x="604" y="6">→</text></g><g id="n21_11"><ellipse class="G" cx="656"/><text x="656" y="6">→</text></g><g id="n21_12"><ellipse class="G" cx="708"/><text x="708" y="6">→</text></g><g id="n21_13"><ellipse class="W" cx="760"/><text x="760" y="6">→</text></g><g id="n21_14"><ellipse class="D" cx="812"/><text x="812" y="6">→</text></g><g id="n21_15"><ellipse class="D" cx="864"/><text x="864" y="6">→</text></g><g id="n21_16"><ellipse class="D" cx="916"/><text x="916" y="6">→</text></g><g id="n21_17"><ellipse class="D" cx="968"/><text x="968" y="6">→</text></g><g id="n21_18"><ellipse class="D" cx="1020"/><text x="1020" y="6">→</text></g><g id="n21_19"><ellipse class="D" cx="1072"/><text x="1072" y="6">→</text></g><g id="n21_20"><ellipse class="D" cx="1124"/><text x="1124" y="6">→</text></g>
</g>
<g id="row22" transform="translate(0 1153.5)">
<g id="n22_0"><ellipse class="D" cx="84"/><text x="84" y="6">←</text></g><g id="n22_1"><ellipse class="D" cx="136"/><text x="136" y="6">←</text></g><g id="n22_2"><ellipse class="W" cx="188"/><text x="188" y="6">←</text></g><g id="n22_3"><ellipse class="G" cx="240"/><text x="240" y="6">←</text></g><g id="n22_4"><ellipse class="G" cx="292"/><text x="292" y="6">←</text></g><g id="n22_5"><ellipse class="T" cx="344"/><text x="344" y="6">←</text></g><g id="n22_6"><ellipse class="W" cx="396"/><text x="396" y="6">←</text></g><g id="n22_7"><ellipse class="W" cx="448"/><text x="448" y="6">←</text></g><g id="n22_8"><ellipse class="T" cx="500"/><text x="500" y="6">←</text></g><g id="n22_9"><ellipse class="T" cx="552"/><text x="552" y="6">←</text></g><g id="n22_10"><ellipse class="P" cx="604"/><text x="604" y="6">←</text></g><g id="n22_11"><ellipse class="G" cx="656"/><text x="656" y="6">←</text></g><g id="n22_12"><ellipse class="G" cx="708"/><text x="708" y="6">←</text></g><g id="n22_13"><ellipse class="W" cx="760"/><text x="760" y="6">←</text></g><g id="n22_14"><ellipse class="D" cx="812"/><text x="812" y="6">←</text></g><g id="n22_15"><ellipse class="D" cx="864"/><text x="864" y="6">←</text></g><g id="n22_16"><ellipse class="D" cx="916"/><text x="916" y="6">←</text></g><g id="n22_17"><ellipse class="D" cx="968"/><text x="968" y="6">←</text></g><g id="n22_18"><ellipse class="D" cx="1020"/><text x="1020" y="6">←</text></g><g id="n22_19"><ellipse class="D" cx="1072"/><text x="1072" y="6">←</text></g><g id="n22_20"><ellipse class="D" cx="1124"/><text x="1124" y="6">←</text></g>
</g>
<g id="row23" transform="translate(0 1205.5)">
<g id="n23_0"><ellipse class="D" cx="84"/><text x="84" y="6">→</text></g><g id="n23_1"><ellipse class="D" cx="136"/><text x="136" y="6">→</text></g><g id="n23_2"><ellipse class="D" cx="188"/><text x="188" y="6">→</text></g><g id="n23_3"><ellipse class="W" cx="240"/><text x="240" y="6">→</text></g><g id="n23_4"><ellipse class="T" cx="292"/><text x="292" y="6">→</text></g><g id="n23_5"><ellipse class="W" cx="344"/><text x="344" y="6">→</text></g><g id="n23_6"><ellipse class="D" cx="396"/><text x="396" y="6">→</text></g><g id="n23_7"><ellipse class="W" cx="448"/><text x="448" y="6">→</text></g><g id="n23_8"><ellipse class="T" cx="500"/><text x="500" y="6">→</text></g><g id="n23_9"><ellipse class="T" cx="552"/><text x="552" y="6">→</text></g><g id="n23_10"><ellipse class="T" cx="604"/><text x="604" y="6">→</text></g><g id="n23_11"><ellipse class="G" cx="656"/><text x="656" y="6">→</text></g><g id="n23_12"><ellipse class="G" cx="708"/><text x="708" y="6">→</text></g><g id="n23_13"><ellipse class="G" cx="760"/><text x="760" y="6">→</text></g><g id="n23_14"><ellipse class="W" cx="812"/><text x="812" y="6">→</text></g><g id="n23_15"><ellipse class="D" cx="864"/><text x="864" y="6">→</text></g><g id="n23_16"><ellipse class="D" cx="916"/><text x="916" y="6">→</text></g><g id="n23_17"><ellipse class="D" cx="968"/><text x="968" y="6">→</text></g><g id="n23_18"><ellipse class="D" cx="1020"/><text x="1020" y="6">→</text></g><g id="n23_19"><ellipse class="D" cx="1072"/><text x="1072" y="6">→</text></g><g id="n23_20"><ellipse class="D" cx="1124"/><text x="1124" y="6">→</text></g>
</g>
<g id="row24" transform="translate(0 1257.5)">
<g id="n24_0"><ellipse class="D" cx="84"/><text x="84" y="6">←</text></g><g id="n24_1"><ellipse class="D" cx="136"/><text x="136" y="6">←</text></g><g id="n24_2"><ellipse class="D" cx="188"/><text x="188" y="6">←</text></g><g id="n24_3"><ellipse class="D" cx="240"/><text x="240" y="6">←</text></g><g id="n24_4"><ellipse class="W" cx="292"/><text x="292" y="6">←</text></g><g id="n24_5"><ellipse class="D" cx="344"/><text x="344" y="6">←</text></g><g id="n24_6"><ellipse class="D" cx="396"/><text x="396" y="6">←</text></g><g id="n24_7"><ellipse class="W" cx="448"/><text x="448" y="6">←</text></g><g id="n24_8"><ellipse class="T" cx="500"/><text x="500" y="6">←</text></g><g id="n24_9"><ellipse class="T" cx="552"/><text x="552" y="6">←</text></g><g id="n24_10"><ellipse class="T" cx="604"/><text x="604" y="6">←</text></g><g id="n24_11"><ellipse class="T" cx="656"/><text x="656" y="6">←</text></g><g id="n24_12"><ellipse class="P" cx="708"/><text x="708" y="6">←</text></g><g id="n24_13"><ellipse class="G" cx="760"/><text x="760" y="6">←</text></g><g id="n24_14"><ellipse class="W" cx="812"/><text x="812" y="6">←</text></g><g id="n24_15"><ellipse class="D" cx="864"/><text x="864" y="6">←</text></g><g id="n24_16"><ellipse class="D" cx="916"/><text x="916" y="6">←</text></g><g id="n24_17"><ellipse class="D" cx="968"/><text x="968" y="6">←</text></g><g id="n24_18"><ellipse class="D" cx="1020"/><text x="1020" y="6">←</text></g><g id="n24_19"><ellipse class="D" cx="1072"/><text x="1072" y="6">←</text></g><g id="n24_20"><ellipse class="D" cx="1124"/><text x="1124" y="6">←</text></g>
</g>
<g id="row25" transform="translate(0 1309.5)">
<g id="n25_0"><ellipse class="D" cx="84"/><text x="84" y="6">→</text></g><g id="n25_1"><ellipse class="D" cx="136"/><text x="136" y="6">→</text></g><g id="n25_2"><ellipse class="D" cx="188"/><text x="188" y="6">→</text></g><g id="n25_3"><ellipse class="D" cx="240"/><text x="240" y="6">→</text></g><g id="n25_4"><ellipse class="D" cx="292"/><text x="292" y="6">→</text></g><g id="n25_5"><ellipse class="D" cx="344"/><text x="344" y="6">→</text></g><g id="n25_6"><ellipse class="D" cx="396"/><text x="396" y="6">→</text></g><g id="n25_7"><ellipse class="D" cx="448"/><text x="448" y="6">→</text></g><g id="n25_8"><ellipse class="W" cx="500"/><text x="500" y="6">→</text></g><g id="n25_9"><ellipse class="T" cx="552"/><text x="552" y="6">→</text></g><g id="n25_10"><ellipse class="T" cx="604"/><text x="604" y="6">→</text></g><g id="n25_11"><ellipse class="P" cx="656"/><text x="656" y="6">→</text></g><g id="n25_12"><ellipse class="G" cx="708"/><text x="708" y="6">→</text></g><g id="n25_13"><ellipse class="P" cx="760"/><text x="760" y="6">→</text></g><g id="n25_14"><ellipse class="G" cx="812"/><text x="812" y="6">→</text></g><g id="n25_15"><ellipse class="W" cx="864"/><text x="864" y="6">→</text></g><g id="n25_16"><ellipse class="D" cx="916"/><text x="916" y="6">→</text></g><g id="n25_17"><ellipse class="D" cx="968"/><text x="968" y="6">→</text></g><g id="n25_18"><ellipse class="D" cx="1020"/><text x="1020" y="6">→</text></g><g id="n25_19"><ellipse class="D" cx="1072"/><text x="1072" y="6">→</text></g><g id="n25_20"><ellipse class="D" cx="1124"/><text x="1124" y="6">→</text></g>
</g>
<g id="row26" transform="translate(0 1361.5)">
<g id="n26_0"><ellipse class="D" cx="84"/><text x="84" y="6">←</text></g><g id="n26_1"><ellipse class="D" cx="136"/><text x="136" y="6">←</text></g><g id="n26_2"><ellipse class="D" cx="188"/><text x="188" y="6">←</text></g><g id="n26_3"><ellipse class="D" cx="240"/><text x="240" y="6">←</text></g><g id="n26_4"><ellipse class="D" cx="292"/><text x="292" y="6">←</text></g><g id="n26_5"><ellipse class="D" cx="344"/><text x="344" y="6">←</text></g><g id="n26_6"><ellipse class="D" cx="396"/><text x="396" y="6">←</text></g><g id="n26_7"><ellipse class="D" cx="448"/><text x="448" y="6">←</text></g><g id="n26_8"><ellipse class="D" cx="500"/><text x="500" y="6">←</text></g><g id="n26_9"><ellipse class="W" cx="552"/><text x="552" y="6">←</text></g><g id="n26_10"><ellipse class="T" cx="604"/><text x="604" y="6">←</text></g><g id="n26_11"><ellipse class="T" cx="656"/><text x="656" y="6">←</text></g><g id="n26_12"><ellipse class="P" cx="708"/><text x="708" y="6">←</text></g><g id="n26_13"><ellipse class="G" cx="760"/><text x="760" y="6">←</text></g><g id="n26_14"><ellipse class="G" cx="812"/><text x="812" y="6">←</text></g><g id="n26_15"><ellipse class="W" cx="864"/><text x="864" y="6">←</text></g><g id="n26_16"><ellipse class="D" cx="916"/><text x="916" y="6">←</text></g><g id="n26_17"><ellipse class="D" cx="968"/><text x="968" y="6">←</text></g><g id="n26_18"><ellipse class="D" cx="1020"/><text x="1020" y="6">←</text></g><g id="n26_19"><ellipse class="D" cx="1072"/><text x="1072" y="6">←</text></g><g id="n26_20"><ellipse class="D" cx="1124"/><text x="1124" y="6">←</text></g>
</g>
<g id="row27" transform="translate(0 1413.5)">
<g id="n27_0"><ellipse class="D" cx="84"/><text x="84" y="6">→</text></g><g id="n27_1"><ellipse class="D" cx="136"/><text x="136" y="6">→</text></g><g id="n27_2"><ellipse class="P" cx="188"/><text x="188" y="6">→</text></g><g id="n27_3"><ellipse class="D" cx="240"/><text x="240" y="6">→</text></g><g id="n27_4"><ellipse class="D" cx="292"/><text x="292" y="6">→</text></g><g id="n27_5"><ellipse class="D" cx="344"/><text x="344" y="6">→</text></g><g id="n27_6"><ellipse class="D" cx="396"/><text x="396" y="6">→</text></g><g id="n27_7"><ellipse class="D" cx="448"/><text x="448" y="6">→</text></g><g id="n27_8"><ellipse class="D" cx="500"/><text x="500" y="6">→</text></g><g id="n27_9"><ellipse class="D" cx="552"/><text x="552" y="6">→</text></g><g id="n27_10"><ellipse class="W" cx="604"/><text x="604" y="6">→</text></g><g id="n27_11"><ellipse class="W" cx="656"/><text x="656" y="6">→</text></g><g id="n27_12"><ellipse class="G" cx="708"/><text x="708" y="6">→</text></g><g id="n27_13"><ellipse class="G" cx="760"/><text x="760" y="6">→</text></g><g id="n27_14"><ellipse class="G" cx="812"/><text x="812" y="6">→</text></g><g id="n27_15"><ellipse class="W" cx="864"/><text x="864" y="6">→</text></g><g id="n27_16"><ellipse class="D" cx="916"/><text x="916" y="6">→</text></g><g id="n27_17"><ellipse class="D" cx="968"/><text x="968" y="6">→</text></g><g id="n27_18"><ellipse class="D" cx="1020"/><text x="1020" y="6">→</text></g><g id="n27_19"><ellipse class="D" cx="1072"/><text x="1072" y="6">→</text></g><g id="n27_20"><ellipse class="D" cx="1124"/><text x="1124" y="6">→</text></g>
</g>
<g id="row28" transform="translate(0 1465.5)">
<g id="n28_0"><ellipse class="D" cx="84"/><text x="84" y="6">←</text></g><g id="n28_1"><ellipse class="P" cx="136"/><text x="136" y="6">←</text></g><g id="n28_2"><ellipse class="P" cx="188"/><text x="188" y="6">←</text></g><g id="n28_3"><ellipse class="P" cx="240"/><text x="240" y="6">←</text></g><g id="n28_4"><ellipse class="D" cx="292"/><text x="292" y="6">←</text></g><g id="n28_5"><ellipse class="D" cx="344"/><text x="344" y="6">←</text></g><g id="n28_6"><ellipse class="D" cx="396"/><text x="396" y="6">←</text></g><g id="n28_7"><ellipse class="D" cx="448"/><text x="448" y="6">←</text></g><g id="n28_8"><ellipse class="D" cx="500"/><text x="500" y="6">←</text></g><g id="n28_9"><ellipse class="D" cx="552"/><text x="552" y="6">←</text></g><g id="n28_10"><ellipse class="D" cx="604"/><text x="604" y="6">←</text></g><g id="n28_11"><ellipse class="D" cx="656"/><text x="656" y="6">←</text></g><g id="n28_12"><ellipse class="W" cx="708"/><text x="708" y="6">←</text></g><g id="n28_13"><ellipse class="W" cx="760"/><text x="760" y="6">←</text></g><g id="n28_14"><ellipse class="W" cx="812"/><text x="812" y="6">←</text></g><g id="n28_15"><ellipse class="D" cx="864"/><text x="864" y="6">←</text></g><g id="n28_16"><ellipse class="D" cx="916"/><text x="916" y="6">←</text></g><g id="n28_17"><ellipse class="Y" cx="968"/><text x="968" y="6">←</text></g><g id="n28_18"><ellipse class="D" cx="1020"/><text x="1020" y="6">←</text></g><g id="n28_19"><ellipse class="D" cx="1072"/><text x="1072" y="6">←</text></g><g id="n28_20"><ellipse class="D" cx="1124"/><text x="1124" y="6">←</text></g>
</g>
<g id="row29" transform="translate(0 1517.5)">
<g id="n29_0"><ellipse class="D" cx="84"/><text x="84" y="6">→</text></g><g id="n29_1"><ellipse class="D" cx="136"/><text x="136" y="6">→</text></g><g id="n29_2"><ellipse class="P" cx="188"/><text x="188" y="6">→</text></g><g id="n29_3"><ellipse class="D" cx="240"/><text x="240" y="6">→</text></g><g id="n29_4"><ellipse class="D" cx="292"/><text x="292" y="6">→</text></g><g id="n29_5"><ellipse class="D" cx="344"/><text x="344" y="6">→</text></g><g id="n29_6"><ellipse class="D" cx="396"/><text x="396" y="6">→</text></g><g id="n29_7"><ellipse class="D" cx="448"/><text x="448" y="6">→</text></g><g id="n29_8"><ellipse class="D" cx="500"/><text x="500" y="6">→</text></g><g id="n29_9"><ellipse class="D" cx="552"/><text x="552" y="6">→</text></g><g id="n29_10"><ellipse class="D" cx="604"/><text x="604" y="6">→</text></g><g id="n29_11"><ellipse class="D" cx="656"/><text x="656" y="6">→</text></g><g id="n29_12"><ellipse class="D" cx="708"/><text x="708" y="6">→</text></g><g id="n29_13"><ellipse class="D" cx="760"/><text x="760" y="6">→</text></g><g id="n29_14"><ellipse class="D" cx="812"/><text x="812" y="6">→</text></g><g id="n29_15"><ellipse class="D" cx="864"/><text x="864" y="6">→</text></g><g id="n29_16"><ellipse class="Y" cx="916"/><text x="916" y="6">→</text></g><g id="n29_17"><ellipse class="D" cx="968"/><text x="968" y="6">→</text></g><g id="n29_18"><ellipse class="Y" cx="1020"/><text x="1020" y="6">→</text></g><g id="n29_19"><ellipse class="D" cx="1072"/><text x="1072" y="6">→</text></g><g id="n29_20"><ellipse class="D" cx="1124"/><text x="1124" y="6">→</text></g>
</g>
<g id="row30" transform="translate(0 1569.5)">
<g id="n30_0"><ellipse class="D" cx="84"/><text x="84" y="6">←</text></g><g id="n30_1"><ellipse class="D" cx="136"/><text x="136" y="6">←</text></g><g id="n30_2"><ellipse class="D" cx="188"/><text x="188" y="6">←</text></g><g id="n30_3"><ellipse class="D" cx="240"/><text x="240" y="6">←</text></g><g id="n30_4"><ellipse class="D" cx="292"/><text x="292" y="6">←</text></g><g id="n30_5"><ellipse class="D" cx="344"/><text x="344" y="6">←</text></g><g id="n30_6"><ellipse class="D" cx="396"/><text x="396" y="6">←</text></g><g id="n30_7"><ellipse class="D" cx="448"/><text x="448" y="6">←</text></g><g id="n30_8"><ellipse class="D" cx="500"/><text x="500" y="6">←</text></g><g id="n30_9"><ellipse class="D" cx="552"/><text x="552" y="6">←</text></g><g id="n30_10"><ellipse class="D" cx="604"/><text x="604" y="6">←</text></g><g id="n30_11"><ellipse class="D" cx="656"/><text x="656" y="6">←</text></g><g id="n30_12"><ellipse class="D" cx="708"/><text x="708" y="6">←</text></g><g id="n30_13"><ellipse class="D" cx="760"/><text x="760" y="6">←</text></g><g id="n30_14"><ellipse class="D" cx="812"/><text x="812" y="6">←</text></g><g id="n30_15"><ellipse class="D" cx="864"/><text x="864" y="6">←</text></g><g id="n30_16"><ellipse class="D" cx="916"/><text x="916" y="6">←</text></g><g id="n30_17"><ellipse class="Y" cx="968"/><text x="968" y="6">←</text></g><g id="n30_18"><ellipse class="D" cx="1020"/><text x="1020" y="6">←</text></g><g id="n30_19"><ellipse class="D" cx="1072"/><text x="1072" y="6">←</text></g><g id="n30_20"><ellipse class="D" cx="1124"/><text x="1124" y="6">←</text></g>
</g>
</g>
<text id="watermark" x="604" y="821.5" font-family="Liberation Sans, Arial, sans-serif" font-weight="bold" font-size="14" fill="#3d3d3d" text-anchor="middle" textLength="155" lengthAdjust="spacingAndGlyphs">BRACELETBOOK.COM</text>
</svg>
